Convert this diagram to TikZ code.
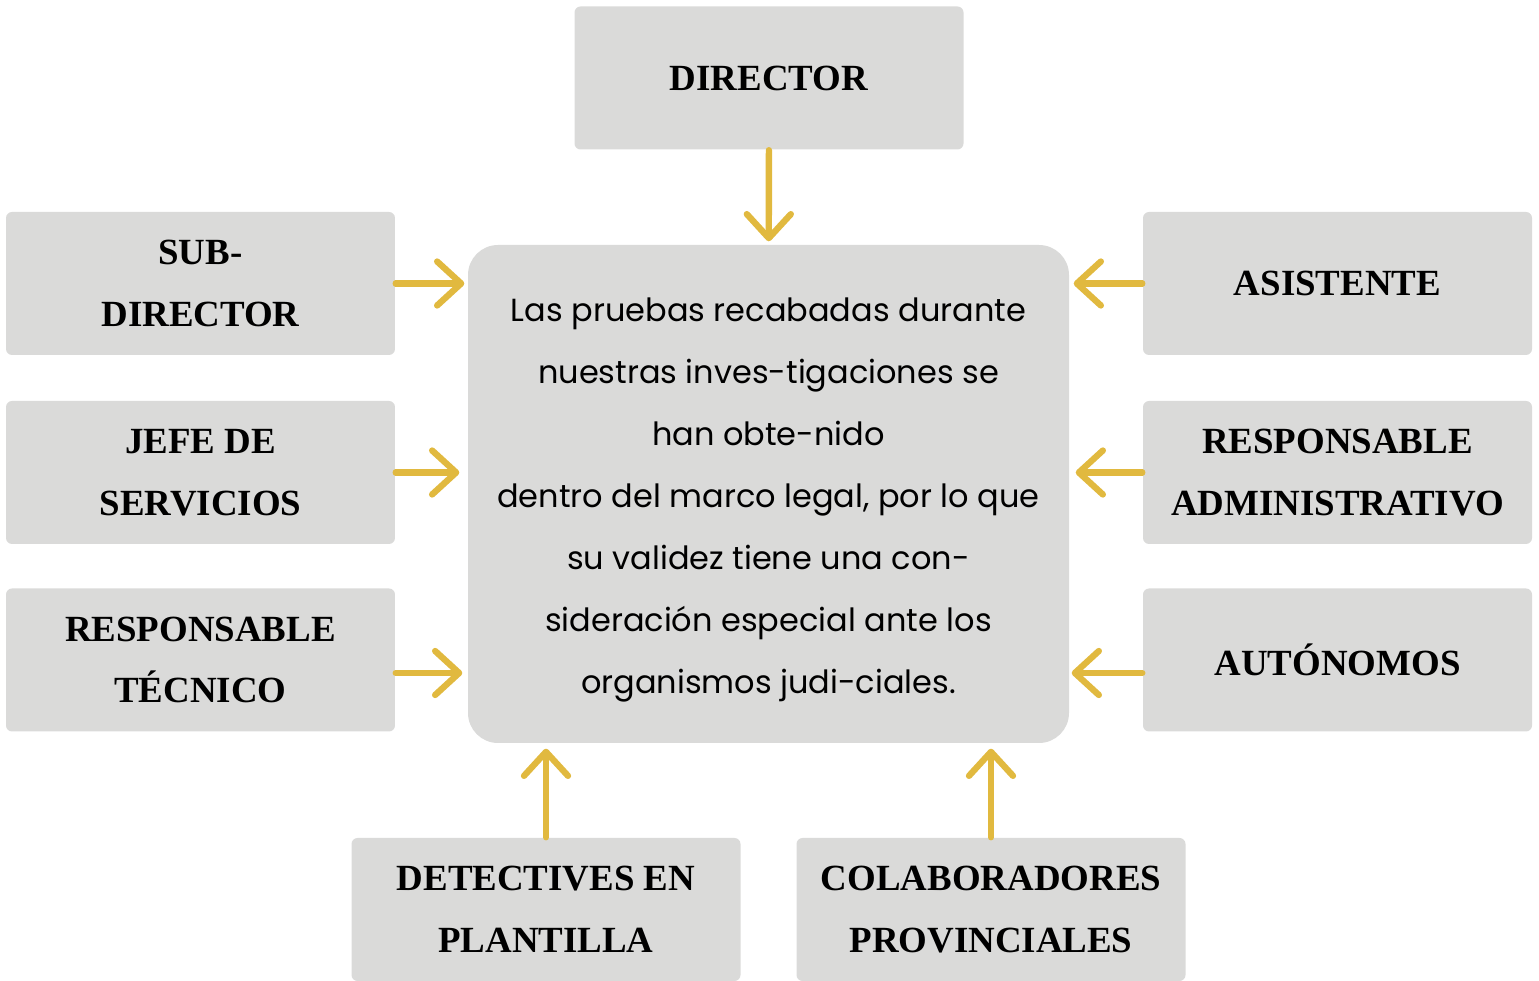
\documentclass[tikz,border=0pt]{standalone}
\usepackage{fontspec}
\setmainfont{Liberation Serif}
\newfontfamily\textocentro{Poppins}
\usetikzlibrary{arrows.meta}
\definecolor{grisbox}{HTML}{DADAD9}
\definecolor{amarillo}{HTML}{E1B93F}
\tikzset{
  caja/.style={fill=grisbox, rounded corners=0.6mm, minimum width=38.9mm, minimum height=14.3mm,
    align=center, inner sep=0pt, font=\fontsize{10.5}{17.6}\selectfont\bfseries},
  flecha/.style={draw=amarillo, line width=1.8pt, line cap=round,
    -{Straight Barb[length=2.4mm, width=4.4mm, round, line width=1.8pt]}}
}
\begin{document}
\begin{tikzpicture}[x=0.1mm, y=-0.1mm]
			%%%%% START %%%%%
			\useasboundingbox (0,0) rectangle (1539,981);
			
			\node[fill=grisbox, rounded corners=3mm, minimum width=60.1mm, minimum height=49.8mm] (centro) at (768.5, 494) {};
			\node[align=center, inner sep=0pt, font=\textocentro\fontsize{9.1}{17.6}\selectfont] (texto) at (768.5, 500)
			  {Las pruebas recabadas durante\\ nuestras inves-tigaciones se\\ han obte-nido\\
			   dentro del marco legal, por lo que\\ su validez tiene una con-\\
			   sideración especial ante los\\ organismos judi-ciales.};
			
			\node[caja] (director) at (769, 78) {DIRECTOR};
			
			\node[caja] (subdir) at (200.5, 283.5) {SUB-\\DIRECTOR};
			\node[caja] (jefe) at (200.5, 472.5) {JEFE DE\\SERVICIOS};
			\node[caja] (tecnico) at (200.5, 660) {RESPONSABLE\\TÉCNICO};
			
			\node[caja] (asistente) at (1337.5, 283.5) {ASISTENTE};
			\node[caja] (admin) at (1337.5, 472.5) {RESPONSABLE\\ADMINISTRATIVO};
			\node[caja] (autonomos) at (1337.5, 660) {AUTÓNOMOS};
			
			\node[caja] (detectives) at (546, 909.5) {DETECTIVES EN\\PLANTILLA};
			\node[caja] (colab) at (991, 909.5) {COLABORADORES\\PROVINCIALES};
			
			% flechas hacia el centro
			\draw[flecha, shorten >=0.3mm] (director) -- (centro);
			
			\draw[flecha, shorten >=0.3mm] (subdir.east) -- (subdir.east -| centro.west);
			\draw[flecha, shorten >=0.8mm] (jefe.east) -- (jefe.east -| centro.west);
			\draw[flecha, shorten >=0.5mm] ([yshift=-1.3mm]tecnico.east) -- ([yshift=-1.3mm]tecnico.east -| centro.west);
			
			\draw[flecha, shorten >=0.4mm] (asistente.west) -- (asistente.west -| centro.east);
			\draw[flecha, shorten >=0.6mm] (admin.west) -- (admin.west -| centro.east);
			\draw[flecha, shorten >=0.2mm] ([yshift=-1.3mm]autonomos.west) -- ([yshift=-1.3mm]autonomos.west -| centro.east);
			
			\draw[flecha, shorten >=0.5mm] (detectives.north) -- (detectives.north |- centro.south);
			\draw[flecha, shorten >=0.5mm] (colab.north) -- (colab.north |- centro.south);
			
			%%%%% END %%%%%
\end{tikzpicture}
\end{document}
